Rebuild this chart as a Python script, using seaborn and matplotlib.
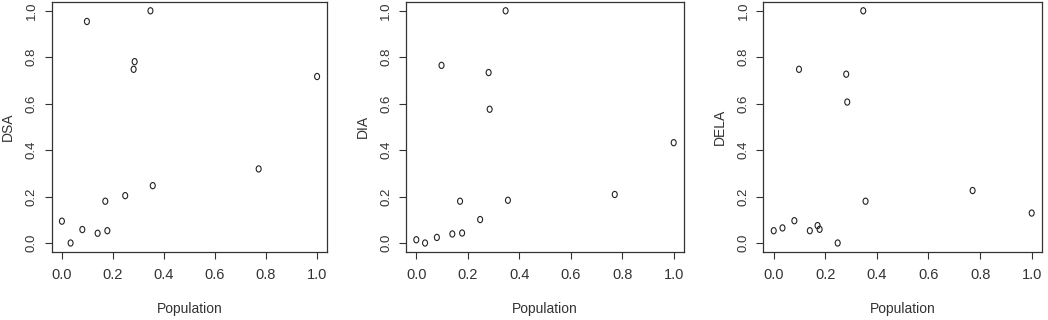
import numpy as np
import pandas as pd
import matplotlib
matplotlib.use("Agg")
import matplotlib.pyplot as plt
from matplotlib import font_manager
from matplotlib.path import Path
import seaborn as sns

# Data
population = [0.000, 0.034, 0.080, 0.098, 0.140, 0.170, 0.178, 0.248, 0.281, 0.285, 0.347, 0.356, 0.771, 1.000]
dsa  = [0.094, 0.000, 0.058, 0.954, 0.042, 0.180, 0.053, 0.204, 0.748, 0.781, 1.000, 0.247, 0.319, 0.717]
dia  = [0.014, 0.000, 0.024, 0.765, 0.039, 0.180, 0.043, 0.101, 0.734, 0.576, 1.000, 0.184, 0.209, 0.432]
dela = [0.053, 0.065, 0.096, 0.748, 0.053, 0.075, 0.059, 0.000, 0.727, 0.607, 1.000, 0.180, 0.226, 0.129]
panel_names = ["DSA", "DIA", "DELA"]
ticks = [0.0, 0.2, 0.4, 0.6, 0.8, 1.0]
tick_labels = ["0.0", "0.2", "0.4", "0.6", "0.8", "1.0"]

df = pd.DataFrame({"Population": population, "DSA": dsa, "DIA": dia, "DELA": dela})

sns.set_style("white")
names = {f.name for f in font_manager.fontManager.ttflist}
narrow = "Liberation Sans Narrow" if "Liberation Sans Narrow" in names else "Liberation Sans"
plt.rcParams["font.family"] = ["Liberation Sans", "DejaVu Sans"]

# slightly tall ellipse marker (the reference image is squeezed horizontally)
_circ = Path.unit_circle()
ellipse = Path(_circ.vertices * np.array([0.8, 1.0]), _circ.codes)

W, H = 1048, 320
fig = plt.figure(figsize=(W / 100, H / 100), dpi=100)
fig.patch.set_facecolor("white")

boxes = [(51.7, 327.3), (406.0, 684.0), (763.4, 1042.0)]
top_px, bot_px = 1.5, 252.3
ink = "#333333"

for (l, r), name in zip(boxes, panel_names):
    ax = fig.add_axes([l / W, (H - bot_px) / H, (r - l) / W, (bot_px - top_px) / H])
    sns.scatterplot(data=df, x="Population", y=name, ax=ax, marker=ellipse,
                    s=20, facecolor="none", edgecolor="#222222", linewidth=0.8)
    ax.set_xlim(-0.04, 1.04)
    ax.set_ylim(-0.04, 1.04)
    ax.set_xticks(ticks)
    ax.set_xticklabels(tick_labels, fontfamily=narrow, fontsize=10.5, color=ink)
    ax.set_yticks(ticks)
    ax.set_yticklabels(tick_labels, rotation=90, va="center", fontsize=9.5, color=ink)
    ax.tick_params(axis="both", direction="out", length=5, width=0.8, color=ink,
                   bottom=True, left=True)
    ax.tick_params(axis="x", pad=6.5)
    ax.tick_params(axis="y", pad=5)
    for sp in ax.spines.values():
        sp.set_visible(True)
        sp.set_color(ink)
        sp.set_linewidth(0.9)
    ax.set_xlabel("Population", fontfamily=narrow, fontsize=10, color=ink)
    ax.set_ylabel(name, fontsize=10, color=ink)
    ax.xaxis.label.set_va("center")
    ax.yaxis.label.set_va("center")
    wpx = r - l
    ax.xaxis.set_label_coords(0.5, -57 / (bot_px - top_px))
    ax.yaxis.set_label_coords(-43.5 / wpx, 0.5)

fig.savefig("out.png", dpi=100, facecolor="white")
